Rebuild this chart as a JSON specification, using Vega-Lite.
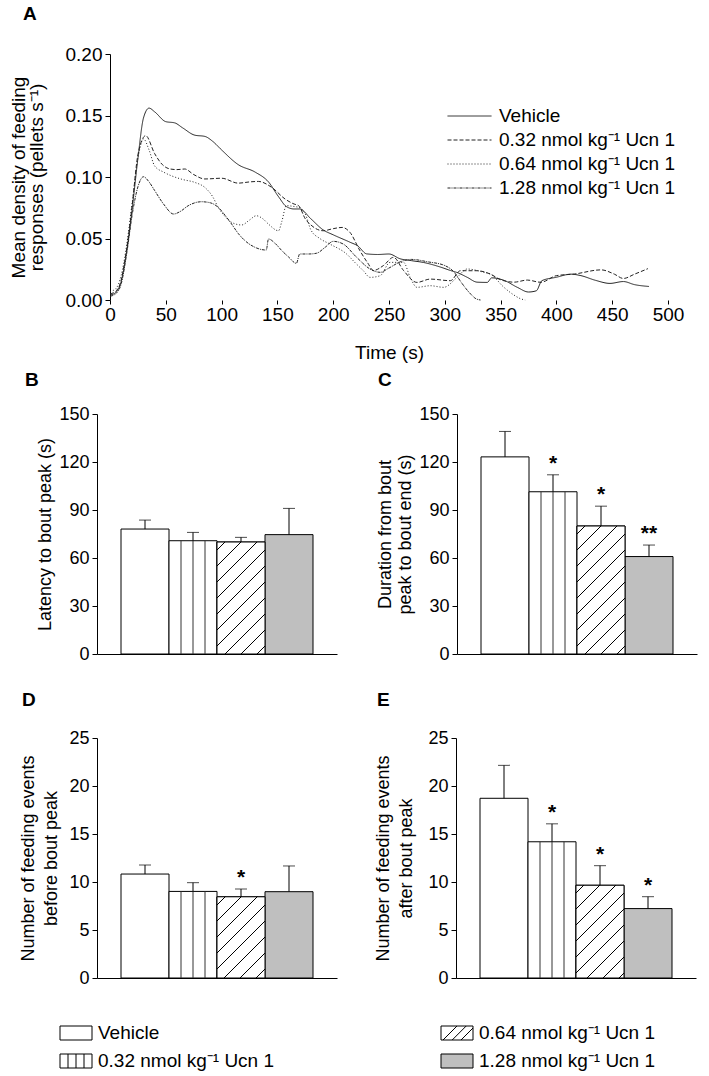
{
"$schema": "https://vega.github.io/schema/vega-lite/v6.json",
"padding": {"left": 9, "top": 5, "right": 2, "bottom": 2},
"background": "#ffffff",
"config": {
 "font": "Liberation Sans",
 "view": {"stroke": null},
 "axis": {"grid": false, "domainColor": "#000", "tickColor": "#000", "labelColor": "#000", "titleColor": "#000", "titleFontWeight": "normal", "tickSize": 5, "labelFontSize": 18, "titleFontSize": 18, "labelPadding": 3, "labelOverlap": false, "labelFlush": false, "titleFont": "Liberation Sans", "labelFont": "Liberation Sans"},
 "title": {"fontSize": 19, "fontWeight": "bold", "anchor": "start", "color": "#000", "frame": "group", "font": "Liberation Sans"}
},
"resolve": {"scale": {"fill": "independent", "shape": "independent", "strokeDash": "independent"}, "legend": {"fill": "independent", "shape": "independent", "strokeDash": "independent"}},
"datasets": {
 "lines": [
  {"series":"Vehicle","time":0,"density":0.004},{"series":"Vehicle","time":5,"density":0.006},{"series":"Vehicle","time":10,"density":0.015},{"series":"Vehicle","time":15,"density":0.04},{"series":"Vehicle","time":20,"density":0.075},{"series":"Vehicle","time":25,"density":0.115},{"series":"Vehicle","time":30,"density":0.148},{"series":"Vehicle","time":35,"density":0.156},{"series":"Vehicle","time":40,"density":0.153},{"series":"Vehicle","time":50,"density":0.145},{"series":"Vehicle","time":58,"density":0.144},{"series":"Vehicle","time":65,"density":0.14},{"series":"Vehicle","time":76,"density":0.134},{"series":"Vehicle","time":85,"density":0.133},{"series":"Vehicle","time":92,"density":0.129},{"series":"Vehicle","time":100,"density":0.122},{"series":"Vehicle","time":115,"density":0.110},{"series":"Vehicle","time":130,"density":0.104},{"series":"Vehicle","time":142,"density":0.096},{"series":"Vehicle","time":151,"density":0.084},{"series":"Vehicle","time":158,"density":0.076},{"series":"Vehicle","time":165,"density":0.074},{"series":"Vehicle","time":170,"density":0.074},{"series":"Vehicle","time":180,"density":0.066},{"series":"Vehicle","time":191,"density":0.057},{"series":"Vehicle","time":200,"density":0.053},{"series":"Vehicle","time":215,"density":0.047},{"series":"Vehicle","time":222,"density":0.044},{"series":"Vehicle","time":230,"density":0.0375},{"series":"Vehicle","time":240,"density":0.037},{"series":"Vehicle","time":250,"density":0.0374},{"series":"Vehicle","time":260,"density":0.0335},{"series":"Vehicle","time":270,"density":0.032},{"series":"Vehicle","time":281,"density":0.0305},{"series":"Vehicle","time":296,"density":0.0268},{"series":"Vehicle","time":305,"density":0.024},{"series":"Vehicle","time":312,"density":0.022},{"series":"Vehicle","time":320,"density":0.0185},{"series":"Vehicle","time":329,"density":0.0145},{"series":"Vehicle","time":338,"density":0.0143},{"series":"Vehicle","time":342,"density":0.018},{"series":"Vehicle","time":353,"density":0.016},{"series":"Vehicle","time":365,"density":0.0103},{"series":"Vehicle","time":375,"density":0.0065},{"series":"Vehicle","time":382,"density":0.0075},{"series":"Vehicle","time":387,"density":0.0157},{"series":"Vehicle","time":400,"density":0.0185},{"series":"Vehicle","time":413,"density":0.021},{"series":"Vehicle","time":422,"density":0.0198},{"series":"Vehicle","time":435,"density":0.016},{"series":"Vehicle","time":448,"density":0.0135},{"series":"Vehicle","time":460,"density":0.015},{"series":"Vehicle","time":470,"density":0.0125},{"series":"Vehicle","time":483,"density":0.011},
  {"series":"0.32 nmol kg⁻¹ Ucn 1","time":0,"density":0.005},{"series":"0.32 nmol kg⁻¹ Ucn 1","time":5,"density":0.007},{"series":"0.32 nmol kg⁻¹ Ucn 1","time":10,"density":0.016},{"series":"0.32 nmol kg⁻¹ Ucn 1","time":15,"density":0.042},{"series":"0.32 nmol kg⁻¹ Ucn 1","time":20,"density":0.078},{"series":"0.32 nmol kg⁻¹ Ucn 1","time":25,"density":0.118},{"series":"0.32 nmol kg⁻¹ Ucn 1","time":32,"density":0.1336},{"series":"0.32 nmol kg⁻¹ Ucn 1","time":40,"density":0.119},{"series":"0.32 nmol kg⁻¹ Ucn 1","time":47,"density":0.11},{"series":"0.32 nmol kg⁻¹ Ucn 1","time":54,"density":0.1065},{"series":"0.32 nmol kg⁻¹ Ucn 1","time":60,"density":0.106},{"series":"0.32 nmol kg⁻¹ Ucn 1","time":67,"density":0.1065},{"series":"0.32 nmol kg⁻¹ Ucn 1","time":75,"density":0.102},{"series":"0.32 nmol kg⁻¹ Ucn 1","time":85,"density":0.0984},{"series":"0.32 nmol kg⁻¹ Ucn 1","time":100,"density":0.099},{"series":"0.32 nmol kg⁻¹ Ucn 1","time":115,"density":0.095},{"series":"0.32 nmol kg⁻¹ Ucn 1","time":125,"density":0.096},{"series":"0.32 nmol kg⁻¹ Ucn 1","time":133,"density":0.0964},{"series":"0.32 nmol kg⁻¹ Ucn 1","time":145,"density":0.0915},{"series":"0.32 nmol kg⁻¹ Ucn 1","time":157,"density":0.082},{"series":"0.32 nmol kg⁻¹ Ucn 1","time":165,"density":0.078},{"series":"0.32 nmol kg⁻¹ Ucn 1","time":169,"density":0.0767},{"series":"0.32 nmol kg⁻¹ Ucn 1","time":175,"density":0.066},{"series":"0.32 nmol kg⁻¹ Ucn 1","time":180,"density":0.061},{"series":"0.32 nmol kg⁻¹ Ucn 1","time":191,"density":0.0563},{"series":"0.32 nmol kg⁻¹ Ucn 1","time":200,"density":0.058},{"series":"0.32 nmol kg⁻¹ Ucn 1","time":208,"density":0.059},{"series":"0.32 nmol kg⁻¹ Ucn 1","time":215,"density":0.055},{"series":"0.32 nmol kg⁻¹ Ucn 1","time":224,"density":0.04},{"series":"0.32 nmol kg⁻¹ Ucn 1","time":231,"density":0.03},{"series":"0.32 nmol kg⁻¹ Ucn 1","time":236,"density":0.024},{"series":"0.32 nmol kg⁻¹ Ucn 1","time":245,"density":0.028},{"series":"0.32 nmol kg⁻¹ Ucn 1","time":254,"density":0.0347},{"series":"0.32 nmol kg⁻¹ Ucn 1","time":263,"density":0.024},{"series":"0.32 nmol kg⁻¹ Ucn 1","time":275,"density":0.0143},{"series":"0.32 nmol kg⁻¹ Ucn 1","time":287,"density":0.017},{"series":"0.32 nmol kg⁻¹ Ucn 1","time":305,"density":0.0157},{"series":"0.32 nmol kg⁻¹ Ucn 1","time":314,"density":0.0238},{"series":"0.32 nmol kg⁻¹ Ucn 1","time":329,"density":0.0238},{"series":"0.32 nmol kg⁻¹ Ucn 1","time":341,"density":0.021},{"series":"0.32 nmol kg⁻¹ Ucn 1","time":350,"density":0.0165},{"series":"0.32 nmol kg⁻¹ Ucn 1","time":362,"density":0.0145},{"series":"0.32 nmol kg⁻¹ Ucn 1","time":374,"density":0.0162},{"series":"0.32 nmol kg⁻¹ Ucn 1","time":386,"density":0.0144},{"series":"0.32 nmol kg⁻¹ Ucn 1","time":400,"density":0.0198},{"series":"0.32 nmol kg⁻¹ Ucn 1","time":416,"density":0.0211},{"series":"0.32 nmol kg⁻¹ Ucn 1","time":440,"density":0.0245},{"series":"0.32 nmol kg⁻¹ Ucn 1","time":452,"density":0.021},{"series":"0.32 nmol kg⁻¹ Ucn 1","time":460,"density":0.0175},{"series":"0.32 nmol kg⁻¹ Ucn 1","time":470,"density":0.021},{"series":"0.32 nmol kg⁻¹ Ucn 1","time":482,"density":0.0255},
  {"series":"0.64 nmol kg⁻¹ Ucn 1","time":0,"density":0.007},{"series":"0.64 nmol kg⁻¹ Ucn 1","time":5,"density":0.009},{"series":"0.64 nmol kg⁻¹ Ucn 1","time":10,"density":0.02},{"series":"0.64 nmol kg⁻¹ Ucn 1","time":15,"density":0.045},{"series":"0.64 nmol kg⁻¹ Ucn 1","time":20,"density":0.08},{"series":"0.64 nmol kg⁻¹ Ucn 1","time":25,"density":0.115},{"series":"0.64 nmol kg⁻¹ Ucn 1","time":30,"density":0.131},{"series":"0.64 nmol kg⁻¹ Ucn 1","time":35,"density":0.122},{"series":"0.64 nmol kg⁻¹ Ucn 1","time":40,"density":0.109},{"series":"0.64 nmol kg⁻¹ Ucn 1","time":48,"density":0.104},{"series":"0.64 nmol kg⁻¹ Ucn 1","time":55,"density":0.101},{"series":"0.64 nmol kg⁻¹ Ucn 1","time":65,"density":0.098},{"series":"0.64 nmol kg⁻¹ Ucn 1","time":76,"density":0.0956},{"series":"0.64 nmol kg⁻¹ Ucn 1","time":85,"density":0.0915},{"series":"0.64 nmol kg⁻¹ Ucn 1","time":92,"density":0.084},{"series":"0.64 nmol kg⁻¹ Ucn 1","time":97,"density":0.0753},{"series":"0.64 nmol kg⁻¹ Ucn 1","time":103,"density":0.068},{"series":"0.64 nmol kg⁻¹ Ucn 1","time":109,"density":0.0631},{"series":"0.64 nmol kg⁻¹ Ucn 1","time":118,"density":0.061},{"series":"0.64 nmol kg⁻¹ Ucn 1","time":125,"density":0.065},{"series":"0.64 nmol kg⁻¹ Ucn 1","time":131,"density":0.0685},{"series":"0.64 nmol kg⁻¹ Ucn 1","time":137,"density":0.066},{"series":"0.64 nmol kg⁻¹ Ucn 1","time":142,"density":0.0617},{"series":"0.64 nmol kg⁻¹ Ucn 1","time":151,"density":0.0563},{"series":"0.64 nmol kg⁻¹ Ucn 1","time":154,"density":0.064},{"series":"0.64 nmol kg⁻¹ Ucn 1","time":158,"density":0.0767},{"series":"0.64 nmol kg⁻¹ Ucn 1","time":165,"density":0.076},{"series":"0.64 nmol kg⁻¹ Ucn 1","time":169,"density":0.0753},{"series":"0.64 nmol kg⁻¹ Ucn 1","time":175,"density":0.0699},{"series":"0.64 nmol kg⁻¹ Ucn 1","time":180,"density":0.057},{"series":"0.64 nmol kg⁻¹ Ucn 1","time":188,"density":0.05},{"series":"0.64 nmol kg⁻¹ Ucn 1","time":197,"density":0.0455},{"series":"0.64 nmol kg⁻¹ Ucn 1","time":212,"density":0.0374},{"series":"0.64 nmol kg⁻¹ Ucn 1","time":220,"density":0.03},{"series":"0.64 nmol kg⁻¹ Ucn 1","time":227,"density":0.0238},{"series":"0.64 nmol kg⁻¹ Ucn 1","time":233,"density":0.0184},{"series":"0.64 nmol kg⁻¹ Ucn 1","time":242,"density":0.0197},{"series":"0.64 nmol kg⁻¹ Ucn 1","time":251,"density":0.0306},{"series":"0.64 nmol kg⁻¹ Ucn 1","time":263,"density":0.0306},{"series":"0.64 nmol kg⁻¹ Ucn 1","time":269,"density":0.0184},{"series":"0.64 nmol kg⁻¹ Ucn 1","time":275,"density":0.0103},{"series":"0.64 nmol kg⁻¹ Ucn 1","time":287,"density":0.0116},{"series":"0.64 nmol kg⁻¹ Ucn 1","time":299,"density":0.0103},{"series":"0.64 nmol kg⁻¹ Ucn 1","time":311,"density":0.0184},{"series":"0.64 nmol kg⁻¹ Ucn 1","time":320,"density":0.0252},{"series":"0.64 nmol kg⁻¹ Ucn 1","time":335,"density":0.0225},{"series":"0.64 nmol kg⁻¹ Ucn 1","time":341,"density":0.021},{"series":"0.64 nmol kg⁻¹ Ucn 1","time":353,"density":0.0103},{"series":"0.64 nmol kg⁻¹ Ucn 1","time":362,"density":0.004},{"series":"0.64 nmol kg⁻¹ Ucn 1","time":368,"density":0.001},{"series":"0.64 nmol kg⁻¹ Ucn 1","time":372,"density":0},
  {"series":"1.28 nmol kg⁻¹ Ucn 1","time":0,"density":0.003},{"series":"1.28 nmol kg⁻¹ Ucn 1","time":5,"density":0.005},{"series":"1.28 nmol kg⁻¹ Ucn 1","time":10,"density":0.013},{"series":"1.28 nmol kg⁻¹ Ucn 1","time":15,"density":0.038},{"series":"1.28 nmol kg⁻¹ Ucn 1","time":20,"density":0.07},{"series":"1.28 nmol kg⁻¹ Ucn 1","time":25,"density":0.092},{"series":"1.28 nmol kg⁻¹ Ucn 1","time":30,"density":0.1002},{"series":"1.28 nmol kg⁻¹ Ucn 1","time":35,"density":0.096},{"series":"1.28 nmol kg⁻¹ Ucn 1","time":40,"density":0.089},{"series":"1.28 nmol kg⁻¹ Ucn 1","time":48,"density":0.078},{"series":"1.28 nmol kg⁻¹ Ucn 1","time":57,"density":0.0699},{"series":"1.28 nmol kg⁻¹ Ucn 1","time":63,"density":0.072},{"series":"1.28 nmol kg⁻¹ Ucn 1","time":70,"density":0.0766},{"series":"1.28 nmol kg⁻¹ Ucn 1","time":82,"density":0.0799},{"series":"1.28 nmol kg⁻¹ Ucn 1","time":90,"density":0.079},{"series":"1.28 nmol kg⁻¹ Ucn 1","time":97,"density":0.0753},{"series":"1.28 nmol kg⁻¹ Ucn 1","time":103,"density":0.069},{"series":"1.28 nmol kg⁻¹ Ucn 1","time":109,"density":0.0617},{"series":"1.28 nmol kg⁻¹ Ucn 1","time":115,"density":0.054},{"series":"1.28 nmol kg⁻¹ Ucn 1","time":121,"density":0.0482},{"series":"1.28 nmol kg⁻¹ Ucn 1","time":130,"density":0.0428},{"series":"1.28 nmol kg⁻¹ Ucn 1","time":140,"density":0.0406},{"series":"1.28 nmol kg⁻¹ Ucn 1","time":142,"density":0.0496},{"series":"1.28 nmol kg⁻¹ Ucn 1","time":148,"density":0.046},{"series":"1.28 nmol kg⁻¹ Ucn 1","time":154,"density":0.0401},{"series":"1.28 nmol kg⁻¹ Ucn 1","time":160,"density":0.035},{"series":"1.28 nmol kg⁻¹ Ucn 1","time":167,"density":0.0298},{"series":"1.28 nmol kg⁻¹ Ucn 1","time":170,"density":0.0374},{"series":"1.28 nmol kg⁻¹ Ucn 1","time":178,"density":0.0374},{"series":"1.28 nmol kg⁻¹ Ucn 1","time":185,"density":0.038},{"series":"1.28 nmol kg⁻¹ Ucn 1","time":193,"density":0.043},{"series":"1.28 nmol kg⁻¹ Ucn 1","time":200,"density":0.0477},{"series":"1.28 nmol kg⁻¹ Ucn 1","time":209,"density":0.0455},{"series":"1.28 nmol kg⁻¹ Ucn 1","time":221,"density":0.0347},{"series":"1.28 nmol kg⁻¹ Ucn 1","time":233,"density":0.0252},{"series":"1.28 nmol kg⁻¹ Ucn 1","time":242,"density":0.0225},{"series":"1.28 nmol kg⁻¹ Ucn 1","time":250,"density":0.026},{"series":"1.28 nmol kg⁻¹ Ucn 1","time":260,"density":0.031},{"series":"1.28 nmol kg⁻¹ Ucn 1","time":270,"density":0.033},{"series":"1.28 nmol kg⁻¹ Ucn 1","time":285,"density":0.031},{"series":"1.28 nmol kg⁻¹ Ucn 1","time":300,"density":0.028},{"series":"1.28 nmol kg⁻¹ Ucn 1","time":308,"density":0.023},{"series":"1.28 nmol kg⁻¹ Ucn 1","time":315,"density":0.014},{"series":"1.28 nmol kg⁻¹ Ucn 1","time":322,"density":0.006},{"series":"1.28 nmol kg⁻¹ Ucn 1","time":328,"density":0.001},{"series":"1.28 nmol kg⁻¹ Ucn 1","time":332,"density":0}
 ],
 "bars": [
  {"panel":"B","group":"Vehicle","mean":78.1,"upper":83.7,"sig":""},
  {"panel":"B","group":"0.32 nmol kg⁻¹ Ucn 1","mean":70.8,"upper":76.0,"sig":""},
  {"panel":"B","group":"0.64 nmol kg⁻¹ Ucn 1","mean":70.0,"upper":72.9,"sig":""},
  {"panel":"B","group":"1.28 nmol kg⁻¹ Ucn 1","mean":74.6,"upper":91.0,"sig":""},
  {"panel":"C","group":"Vehicle","mean":123.2,"upper":139.1,"sig":""},
  {"panel":"C","group":"0.32 nmol kg⁻¹ Ucn 1","mean":101.4,"upper":112.0,"sig":"*"},
  {"panel":"C","group":"0.64 nmol kg⁻¹ Ucn 1","mean":80.0,"upper":92.4,"sig":"*"},
  {"panel":"C","group":"1.28 nmol kg⁻¹ Ucn 1","mean":60.9,"upper":68.1,"sig":"**"},
  {"panel":"D","group":"Vehicle","mean":10.83,"upper":11.77,"sig":""},
  {"panel":"D","group":"0.32 nmol kg⁻¹ Ucn 1","mean":9.02,"upper":9.93,"sig":""},
  {"panel":"D","group":"0.64 nmol kg⁻¹ Ucn 1","mean":8.46,"upper":9.27,"sig":"*"},
  {"panel":"D","group":"1.28 nmol kg⁻¹ Ucn 1","mean":8.99,"upper":11.67,"sig":""},
  {"panel":"E","group":"Vehicle","mean":18.72,"upper":22.15,"sig":""},
  {"panel":"E","group":"0.32 nmol kg⁻¹ Ucn 1","mean":14.19,"upper":16.06,"sig":"*"},
  {"panel":"E","group":"0.64 nmol kg⁻¹ Ucn 1","mean":9.66,"upper":11.70,"sig":"*"},
  {"panel":"E","group":"1.28 nmol kg⁻¹ Ucn 1","mean":7.23,"upper":8.47,"sig":"*"}
 ],
 "legend": [
  {"group":"Vehicle","col":"left","row":"first"},
  {"group":"0.32 nmol kg⁻¹ Ucn 1","col":"left","row":"second"},
  {"group":"0.64 nmol kg⁻¹ Ucn 1","col":"right","row":"first"},
  {"group":"1.28 nmol kg⁻¹ Ucn 1","col":"right","row":"second"}
 ]
},
"spacing": 9,
"vconcat": [
 {
  "width": 571, "height": 246,
  "title": {"text": "A", "dx": -74, "offset": 21},
  "layer": [
   {
    "data": {"name": "lines"},
    "mark": {"type": "line", "interpolate": "monotone", "strokeWidth": 1, "color": "#222"},
    "encoding": {
     "x": {"field": "time", "type": "quantitative", "scale": {"domain": [-11.65, 500], "nice": false, "zero": false},
           "axis": {"title": "Time (s)", "titleX": 292, "domain": false, "values": [0,25,50,75,100,125,150,175,200,225,250,275,300,325,350,375,400,425,450,475,500], "format": "d", "labelExpr": "datum.value % 50 === 0 ? datum.label : ''", "labelFontSize": 19, "titleFontSize": 19, "titlePadding": 19, "tickSize": 4, "labelPadding": 1}},
     "y": {"field": "density", "type": "quantitative", "scale": {"domain": [0, 0.2], "nice": false},
           "axis": {"title": ["Mean density of feeding", "responses (pellets s⁻¹)"], "offset": -13, "values": [0,0.025,0.05,0.075,0.1,0.125,0.15,0.175,0.2], "format": ".2f", "labelExpr": "indexof(['0.00','0.05','0.10','0.15','0.20'], datum.label) >= 0 ? datum.label : ''", "labelFontSize": 19, "titleFontSize": 19, "titleLineHeight": 17.5, "titlePadding": 19}},
     "strokeDash": {"field": "series", "type": "nominal",
           "scale": {"domain": ["Vehicle", "0.32 nmol kg⁻¹ Ucn 1", "0.64 nmol kg⁻¹ Ucn 1", "1.28 nmol kg⁻¹ Ucn 1"], "range": [[1,0],[4,2],[1,2],[3,1,1,1]]},
           "legend": {"orient": "none", "legendX": 350, "legendY": 50, "title": null, "symbolType": "stroke", "symbolSize": 1936, "symbolStrokeWidth": 1, "symbolStrokeColor": "#222", "labelFontSize": 19, "labelFont": "Liberation Sans", "labelColor": "#000", "labelLimit": 400, "clipHeight": 24, "rowPadding": 0, "labelOffset": 7, "padding": 0}}
    }
   },
   {
    "mark": {"type": "rule", "color": "#000", "strokeWidth": 1},
    "encoding": {"x": {"datum": 0}, "x2": {"datum": 500}, "y": {"datum": 0}}
   }
  ]
 },
 {
  "spacing": 39,
  "resolve": {"scale": {"fill": "independent"}, "legend": {"fill": "independent"}},
  "hconcat": [
   {
    "width": 240, "height": 240,
    "title": {"text": "B", "dx": -72, "offset": 15},
    "data": {"name": "bars"},
    "transform": [{"filter": "datum.panel === 'B'"}],
    "encoding": {"x": {"field": "group", "type": "nominal", "sort": null, "scale": {"domain": ["Vehicle", "0.32 nmol kg⁻¹ Ucn 1", "0.64 nmol kg⁻¹ Ucn 1", "1.28 nmol kg⁻¹ Ucn 1"], "paddingInner": 0, "paddingOuter": 0.5}, "axis": {"title": " ", "labels": false, "ticks": false, "titlePadding": 10}}},
    "layer": [
     {"mark": {"type": "bar", "stroke": "#000", "strokeWidth": 1}, "encoding": {"y": {"field": "mean", "type": "quantitative", "title": "Latency to bout peak (s)", "scale": {"domain": [0, 150], "nice": false}, "axis": {"values": [0,30,60,90,120,150], "titlePadding": 4}}, "fill": {"field": "group", "type": "nominal", "scale": {"domain": ["Vehicle", "0.32 nmol kg⁻¹ Ucn 1", "0.64 nmol kg⁻¹ Ucn 1", "1.28 nmol kg⁻¹ Ucn 1"], "range": ["#ffffff","#ffffff","#ffffff","#bfbfbf"]}, "legend": null}}},
     {"transform": [{"filter": "indexof(datum.group, '0.32') === 0"}], "mark": {"type": "rule", "color": "#333", "strokeWidth": 1}, "encoding": {"x": {"field": "group", "type": "nominal", "sort": null, "bandPosition": 0.25}, "y": {"field": "mean", "type": "quantitative", "title": "Latency to bout peak (s)"}, "y2": {"datum": 0}}},
     {"transform": [{"filter": "indexof(datum.group, '0.32') === 0"}], "mark": {"type": "rule", "color": "#333", "strokeWidth": 1}, "encoding": {"x": {"field": "group", "type": "nominal", "sort": null, "bandPosition": 0.5}, "y": {"field": "mean", "type": "quantitative", "title": "Latency to bout peak (s)"}, "y2": {"datum": 0}}},
     {"transform": [{"filter": "indexof(datum.group, '0.32') === 0"}], "mark": {"type": "rule", "color": "#333", "strokeWidth": 1}, "encoding": {"x": {"field": "group", "type": "nominal", "sort": null, "bandPosition": 0.75}, "y": {"field": "mean", "type": "quantitative", "title": "Latency to bout peak (s)"}, "y2": {"datum": 0}}},
     {"transform": [{"filter": "indexof(datum.group, '0.64') === 0"}], "mark": {"type": "bar", "stroke": "#000", "strokeWidth": 1, "fill": {"gradient": "linear", "x1": 0, "y1": 0, "x2": 0.6466, "y2": 1.5086, "stops": [{"offset":0,"color":"#fff"},{"offset":0.0365,"color":"#fff"},{"offset":0.0365,"color":"#000"},{"offset":0.0435,"color":"#000"},{"offset":0.0435,"color":"#fff"},{"offset":0.1165,"color":"#fff"},{"offset":0.1165,"color":"#000"},{"offset":0.1235,"color":"#000"},{"offset":0.1235,"color":"#fff"},{"offset":0.1965,"color":"#fff"},{"offset":0.1965,"color":"#000"},{"offset":0.2035,"color":"#000"},{"offset":0.2035,"color":"#fff"},{"offset":0.2765,"color":"#fff"},{"offset":0.2765,"color":"#000"},{"offset":0.2835,"color":"#000"},{"offset":0.2835,"color":"#fff"},{"offset":0.3565,"color":"#fff"},{"offset":0.3565,"color":"#000"},{"offset":0.3635,"color":"#000"},{"offset":0.3635,"color":"#fff"},{"offset":0.4365,"color":"#fff"},{"offset":0.4365,"color":"#000"},{"offset":0.4435,"color":"#000"},{"offset":0.4435,"color":"#fff"},{"offset":0.5165,"color":"#fff"},{"offset":0.5165,"color":"#000"},{"offset":0.5235,"color":"#000"},{"offset":0.5235,"color":"#fff"},{"offset":0.5965,"color":"#fff"},{"offset":0.5965,"color":"#000"},{"offset":0.6035,"color":"#000"},{"offset":0.6035,"color":"#fff"},{"offset":0.6765,"color":"#fff"},{"offset":0.6765,"color":"#000"},{"offset":0.6835,"color":"#000"},{"offset":0.6835,"color":"#fff"},{"offset":0.7565,"color":"#fff"},{"offset":0.7565,"color":"#000"},{"offset":0.7635,"color":"#000"},{"offset":0.7635,"color":"#fff"},{"offset":0.8365,"color":"#fff"},{"offset":0.8365,"color":"#000"},{"offset":0.8435,"color":"#000"},{"offset":0.8435,"color":"#fff"},{"offset":0.9165,"color":"#fff"},{"offset":0.9165,"color":"#000"},{"offset":0.9235,"color":"#000"},{"offset":0.9235,"color":"#fff"},{"offset":1,"color":"#fff"}]}}, "encoding": {"y": {"field": "mean", "type": "quantitative", "title": "Latency to bout peak (s)"}}},
     {"mark": {"type": "rule", "color": "#000", "strokeWidth": 1}, "encoding": {"y": {"field": "mean", "type": "quantitative", "title": "Latency to bout peak (s)"}, "y2": {"field": "upper"}}},
     {"mark": {"type": "tick", "color": "#000", "thickness": 1, "size": 12}, "encoding": {"y": {"field": "upper", "type": "quantitative", "title": "Latency to bout peak (s)"}}},
     {"mark": {"type": "text", "baseline": "alphabetic", "dy": -5, "fontSize": 21, "fontWeight": "bold", "color": "#000"}, "encoding": {"y": {"field": "upper", "type": "quantitative", "title": "Latency to bout peak (s)"}, "text": {"field": "sig"}}}
    ]
   },
   {
    "width": 240, "height": 240,
    "title": {"text": "C", "dx": -79, "offset": 15},
    "data": {"name": "bars"},
    "transform": [{"filter": "datum.panel === 'C'"}],
    "encoding": {"x": {"field": "group", "type": "nominal", "sort": null, "scale": {"domain": ["Vehicle", "0.32 nmol kg⁻¹ Ucn 1", "0.64 nmol kg⁻¹ Ucn 1", "1.28 nmol kg⁻¹ Ucn 1"], "paddingInner": 0, "paddingOuter": 0.5}, "axis": {"title": " ", "labels": false, "ticks": false, "titlePadding": 10}}},
    "layer": [
     {"mark": {"type": "bar", "stroke": "#000", "strokeWidth": 1}, "encoding": {"y": {"field": "mean", "type": "quantitative", "title": ["Duration from bout", "peak to bout end (s)"], "scale": {"domain": [0, 150], "nice": false}, "axis": {"values": [0,30,60,90,120,150], "titlePadding": 4, "titleLineHeight": 20}}, "fill": {"field": "group", "type": "nominal", "scale": {"domain": ["Vehicle", "0.32 nmol kg⁻¹ Ucn 1", "0.64 nmol kg⁻¹ Ucn 1", "1.28 nmol kg⁻¹ Ucn 1"], "range": ["#ffffff","#ffffff","#ffffff","#bfbfbf"]}, "legend": null}}},
     {"transform": [{"filter": "indexof(datum.group, '0.32') === 0"}], "mark": {"type": "rule", "color": "#333", "strokeWidth": 1}, "encoding": {"x": {"field": "group", "type": "nominal", "sort": null, "bandPosition": 0.25}, "y": {"field": "mean", "type": "quantitative", "title": ["Duration from bout", "peak to bout end (s)"]}, "y2": {"datum": 0}}},
     {"transform": [{"filter": "indexof(datum.group, '0.32') === 0"}], "mark": {"type": "rule", "color": "#333", "strokeWidth": 1}, "encoding": {"x": {"field": "group", "type": "nominal", "sort": null, "bandPosition": 0.5}, "y": {"field": "mean", "type": "quantitative", "title": ["Duration from bout", "peak to bout end (s)"]}, "y2": {"datum": 0}}},
     {"transform": [{"filter": "indexof(datum.group, '0.32') === 0"}], "mark": {"type": "rule", "color": "#333", "strokeWidth": 1}, "encoding": {"x": {"field": "group", "type": "nominal", "sort": null, "bandPosition": 0.75}, "y": {"field": "mean", "type": "quantitative", "title": ["Duration from bout", "peak to bout end (s)"]}, "y2": {"datum": 0}}},
     {"transform": [{"filter": "indexof(datum.group, '0.64') === 0"}], "mark": {"type": "bar", "stroke": "#000", "strokeWidth": 1, "fill": {"gradient": "linear", "x1": 0, "y1": 0, "x2": 0.5137, "y2": 1.3699, "stops": [{"offset":0,"color":"#fff"},{"offset":0.0365,"color":"#fff"},{"offset":0.0365,"color":"#000"},{"offset":0.0435,"color":"#000"},{"offset":0.0435,"color":"#fff"},{"offset":0.1165,"color":"#fff"},{"offset":0.1165,"color":"#000"},{"offset":0.1235,"color":"#000"},{"offset":0.1235,"color":"#fff"},{"offset":0.1965,"color":"#fff"},{"offset":0.1965,"color":"#000"},{"offset":0.2035,"color":"#000"},{"offset":0.2035,"color":"#fff"},{"offset":0.2765,"color":"#fff"},{"offset":0.2765,"color":"#000"},{"offset":0.2835,"color":"#000"},{"offset":0.2835,"color":"#fff"},{"offset":0.3565,"color":"#fff"},{"offset":0.3565,"color":"#000"},{"offset":0.3635,"color":"#000"},{"offset":0.3635,"color":"#fff"},{"offset":0.4365,"color":"#fff"},{"offset":0.4365,"color":"#000"},{"offset":0.4435,"color":"#000"},{"offset":0.4435,"color":"#fff"},{"offset":0.5165,"color":"#fff"},{"offset":0.5165,"color":"#000"},{"offset":0.5235,"color":"#000"},{"offset":0.5235,"color":"#fff"},{"offset":0.5965,"color":"#fff"},{"offset":0.5965,"color":"#000"},{"offset":0.6035,"color":"#000"},{"offset":0.6035,"color":"#fff"},{"offset":0.6765,"color":"#fff"},{"offset":0.6765,"color":"#000"},{"offset":0.6835,"color":"#000"},{"offset":0.6835,"color":"#fff"},{"offset":0.7565,"color":"#fff"},{"offset":0.7565,"color":"#000"},{"offset":0.7635,"color":"#000"},{"offset":0.7635,"color":"#fff"},{"offset":0.8365,"color":"#fff"},{"offset":0.8365,"color":"#000"},{"offset":0.8435,"color":"#000"},{"offset":0.8435,"color":"#fff"},{"offset":0.9165,"color":"#fff"},{"offset":0.9165,"color":"#000"},{"offset":0.9235,"color":"#000"},{"offset":0.9235,"color":"#fff"},{"offset":1,"color":"#fff"}]}}, "encoding": {"y": {"field": "mean", "type": "quantitative", "title": ["Duration from bout", "peak to bout end (s)"]}}},
     {"mark": {"type": "rule", "color": "#000", "strokeWidth": 1}, "encoding": {"y": {"field": "mean", "type": "quantitative", "title": ["Duration from bout", "peak to bout end (s)"]}, "y2": {"field": "upper"}}},
     {"mark": {"type": "tick", "color": "#000", "thickness": 1, "size": 12}, "encoding": {"y": {"field": "upper", "type": "quantitative", "title": ["Duration from bout", "peak to bout end (s)"]}}},
     {"mark": {"type": "text", "baseline": "alphabetic", "dy": -5, "fontSize": 21, "fontWeight": "bold", "color": "#000"}, "encoding": {"y": {"field": "upper", "type": "quantitative", "title": ["Duration from bout", "peak to bout end (s)"]}, "text": {"field": "sig"}}}
    ]
   }
  ]
 },
 {
  "spacing": 37,
  "resolve": {"scale": {"fill": "independent"}, "legend": {"fill": "independent"}},
  "hconcat": [
   {
    "width": 240, "height": 240,
    "title": {"text": "D", "dx": -75, "offset": 19},
    "data": {"name": "bars"},
    "transform": [{"filter": "datum.panel === 'D'"}],
    "encoding": {"x": {"field": "group", "type": "nominal", "sort": null, "scale": {"domain": ["Vehicle", "0.32 nmol kg⁻¹ Ucn 1", "0.64 nmol kg⁻¹ Ucn 1", "1.28 nmol kg⁻¹ Ucn 1"], "paddingInner": 0, "paddingOuter": 0.5}, "axis": {"title": " ", "labels": false, "ticks": false, "titlePadding": 18}}},
    "layer": [
     {"mark": {"type": "bar", "stroke": "#000", "strokeWidth": 1}, "encoding": {"y": {"field": "mean", "type": "quantitative", "title": ["Number of feeding events", "before bout peak"], "scale": {"domain": [0, 25], "nice": false}, "axis": {"values": [0,5,10,15,20,25], "titlePadding": 8, "titleLineHeight": 23}}, "fill": {"field": "group", "type": "nominal", "scale": {"domain": ["Vehicle", "0.32 nmol kg⁻¹ Ucn 1", "0.64 nmol kg⁻¹ Ucn 1", "1.28 nmol kg⁻¹ Ucn 1"], "range": ["#ffffff","#ffffff","#ffffff","#bfbfbf"]}, "legend": null}}},
     {"transform": [{"filter": "indexof(datum.group, '0.32') === 0"}], "mark": {"type": "rule", "color": "#333", "strokeWidth": 1}, "encoding": {"x": {"field": "group", "type": "nominal", "sort": null, "bandPosition": 0.25}, "y": {"field": "mean", "type": "quantitative", "title": ["Number of feeding events", "before bout peak"]}, "y2": {"datum": 0}}},
     {"transform": [{"filter": "indexof(datum.group, '0.32') === 0"}], "mark": {"type": "rule", "color": "#333", "strokeWidth": 1}, "encoding": {"x": {"field": "group", "type": "nominal", "sort": null, "bandPosition": 0.5}, "y": {"field": "mean", "type": "quantitative", "title": ["Number of feeding events", "before bout peak"]}, "y2": {"datum": 0}}},
     {"transform": [{"filter": "indexof(datum.group, '0.32') === 0"}], "mark": {"type": "rule", "color": "#333", "strokeWidth": 1}, "encoding": {"x": {"field": "group", "type": "nominal", "sort": null, "bandPosition": 0.75}, "y": {"field": "mean", "type": "quantitative", "title": ["Number of feeding events", "before bout peak"]}, "y2": {"datum": 0}}},
     {"transform": [{"filter": "indexof(datum.group, '0.64') === 0"}], "mark": {"type": "bar", "stroke": "#000", "strokeWidth": 1, "fill": {"gradient": "linear", "x1": 0, "y1": 0, "x2": 1.079, "y2": 1.8253, "stops": [{"offset":0,"color":"#fff"},{"offset":0.0365,"color":"#fff"},{"offset":0.0365,"color":"#000"},{"offset":0.0435,"color":"#000"},{"offset":0.0435,"color":"#fff"},{"offset":0.1165,"color":"#fff"},{"offset":0.1165,"color":"#000"},{"offset":0.1235,"color":"#000"},{"offset":0.1235,"color":"#fff"},{"offset":0.1965,"color":"#fff"},{"offset":0.1965,"color":"#000"},{"offset":0.2035,"color":"#000"},{"offset":0.2035,"color":"#fff"},{"offset":0.2765,"color":"#fff"},{"offset":0.2765,"color":"#000"},{"offset":0.2835,"color":"#000"},{"offset":0.2835,"color":"#fff"},{"offset":0.3565,"color":"#fff"},{"offset":0.3565,"color":"#000"},{"offset":0.3635,"color":"#000"},{"offset":0.3635,"color":"#fff"},{"offset":0.4365,"color":"#fff"},{"offset":0.4365,"color":"#000"},{"offset":0.4435,"color":"#000"},{"offset":0.4435,"color":"#fff"},{"offset":0.5165,"color":"#fff"},{"offset":0.5165,"color":"#000"},{"offset":0.5235,"color":"#000"},{"offset":0.5235,"color":"#fff"},{"offset":0.5965,"color":"#fff"},{"offset":0.5965,"color":"#000"},{"offset":0.6035,"color":"#000"},{"offset":0.6035,"color":"#fff"},{"offset":0.6765,"color":"#fff"},{"offset":0.6765,"color":"#000"},{"offset":0.6835,"color":"#000"},{"offset":0.6835,"color":"#fff"},{"offset":0.7565,"color":"#fff"},{"offset":0.7565,"color":"#000"},{"offset":0.7635,"color":"#000"},{"offset":0.7635,"color":"#fff"},{"offset":0.8365,"color":"#fff"},{"offset":0.8365,"color":"#000"},{"offset":0.8435,"color":"#000"},{"offset":0.8435,"color":"#fff"},{"offset":0.9165,"color":"#fff"},{"offset":0.9165,"color":"#000"},{"offset":0.9235,"color":"#000"},{"offset":0.9235,"color":"#fff"},{"offset":1,"color":"#fff"}]}}, "encoding": {"y": {"field": "mean", "type": "quantitative", "title": ["Number of feeding events", "before bout peak"]}}},
     {"mark": {"type": "rule", "color": "#000", "strokeWidth": 1}, "encoding": {"y": {"field": "mean", "type": "quantitative", "title": ["Number of feeding events", "before bout peak"]}, "y2": {"field": "upper"}}},
     {"mark": {"type": "tick", "color": "#000", "thickness": 1, "size": 12}, "encoding": {"y": {"field": "upper", "type": "quantitative", "title": ["Number of feeding events", "before bout peak"]}}},
     {"mark": {"type": "text", "baseline": "alphabetic", "dy": -5, "fontSize": 21, "fontWeight": "bold", "color": "#000"}, "encoding": {"y": {"field": "upper", "type": "quantitative", "title": ["Number of feeding events", "before bout peak"]}, "text": {"field": "sig"}}}
    ]
   },
   {
    "width": 240, "height": 240,
    "title": {"text": "E", "dx": -79, "offset": 19},
    "data": {"name": "bars"},
    "transform": [{"filter": "datum.panel === 'E'"}],
    "encoding": {"x": {"field": "group", "type": "nominal", "sort": null, "scale": {"domain": ["Vehicle", "0.32 nmol kg⁻¹ Ucn 1", "0.64 nmol kg⁻¹ Ucn 1", "1.28 nmol kg⁻¹ Ucn 1"], "paddingInner": 0, "paddingOuter": 0.5}, "axis": {"title": " ", "labels": false, "ticks": false, "titlePadding": 18}}},
    "layer": [
     {"mark": {"type": "bar", "stroke": "#000", "strokeWidth": 1}, "encoding": {"y": {"field": "mean", "type": "quantitative", "title": ["Number of feeding events", "after bout peak"], "scale": {"domain": [0, 25], "nice": false}, "axis": {"values": [0,5,10,15,20,25], "titlePadding": 12, "titleLineHeight": 23}}, "fill": {"field": "group", "type": "nominal", "scale": {"domain": ["Vehicle", "0.32 nmol kg⁻¹ Ucn 1", "0.64 nmol kg⁻¹ Ucn 1", "1.28 nmol kg⁻¹ Ucn 1"], "range": ["#ffffff","#ffffff","#ffffff","#bfbfbf"]}, "legend": null}}},
     {"transform": [{"filter": "indexof(datum.group, '0.32') === 0"}], "mark": {"type": "rule", "color": "#333", "strokeWidth": 1}, "encoding": {"x": {"field": "group", "type": "nominal", "sort": null, "bandPosition": 0.25}, "y": {"field": "mean", "type": "quantitative", "title": ["Number of feeding events", "after bout peak"]}, "y2": {"datum": 0}}},
     {"transform": [{"filter": "indexof(datum.group, '0.32') === 0"}], "mark": {"type": "rule", "color": "#333", "strokeWidth": 1}, "encoding": {"x": {"field": "group", "type": "nominal", "sort": null, "bandPosition": 0.5}, "y": {"field": "mean", "type": "quantitative", "title": ["Number of feeding events", "after bout peak"]}, "y2": {"datum": 0}}},
     {"transform": [{"filter": "indexof(datum.group, '0.32') === 0"}], "mark": {"type": "rule", "color": "#333", "strokeWidth": 1}, "encoding": {"x": {"field": "group", "type": "nominal", "sort": null, "bandPosition": 0.75}, "y": {"field": "mean", "type": "quantitative", "title": ["Number of feeding events", "after bout peak"]}, "y2": {"datum": 0}}},
     {"transform": [{"filter": "indexof(datum.group, '0.64') === 0"}], "mark": {"type": "bar", "stroke": "#000", "strokeWidth": 1, "fill": {"gradient": "linear", "x1": 0, "y1": 0, "x2": 0.881, "y2": 1.7013, "stops": [{"offset":0,"color":"#fff"},{"offset":0.0365,"color":"#fff"},{"offset":0.0365,"color":"#000"},{"offset":0.0435,"color":"#000"},{"offset":0.0435,"color":"#fff"},{"offset":0.1165,"color":"#fff"},{"offset":0.1165,"color":"#000"},{"offset":0.1235,"color":"#000"},{"offset":0.1235,"color":"#fff"},{"offset":0.1965,"color":"#fff"},{"offset":0.1965,"color":"#000"},{"offset":0.2035,"color":"#000"},{"offset":0.2035,"color":"#fff"},{"offset":0.2765,"color":"#fff"},{"offset":0.2765,"color":"#000"},{"offset":0.2835,"color":"#000"},{"offset":0.2835,"color":"#fff"},{"offset":0.3565,"color":"#fff"},{"offset":0.3565,"color":"#000"},{"offset":0.3635,"color":"#000"},{"offset":0.3635,"color":"#fff"},{"offset":0.4365,"color":"#fff"},{"offset":0.4365,"color":"#000"},{"offset":0.4435,"color":"#000"},{"offset":0.4435,"color":"#fff"},{"offset":0.5165,"color":"#fff"},{"offset":0.5165,"color":"#000"},{"offset":0.5235,"color":"#000"},{"offset":0.5235,"color":"#fff"},{"offset":0.5965,"color":"#fff"},{"offset":0.5965,"color":"#000"},{"offset":0.6035,"color":"#000"},{"offset":0.6035,"color":"#fff"},{"offset":0.6765,"color":"#fff"},{"offset":0.6765,"color":"#000"},{"offset":0.6835,"color":"#000"},{"offset":0.6835,"color":"#fff"},{"offset":0.7565,"color":"#fff"},{"offset":0.7565,"color":"#000"},{"offset":0.7635,"color":"#000"},{"offset":0.7635,"color":"#fff"},{"offset":0.8365,"color":"#fff"},{"offset":0.8365,"color":"#000"},{"offset":0.8435,"color":"#000"},{"offset":0.8435,"color":"#fff"},{"offset":0.9165,"color":"#fff"},{"offset":0.9165,"color":"#000"},{"offset":0.9235,"color":"#000"},{"offset":0.9235,"color":"#fff"},{"offset":1,"color":"#fff"}]}}, "encoding": {"y": {"field": "mean", "type": "quantitative", "title": ["Number of feeding events", "after bout peak"]}}},
     {"mark": {"type": "rule", "color": "#000", "strokeWidth": 1}, "encoding": {"y": {"field": "mean", "type": "quantitative", "title": ["Number of feeding events", "after bout peak"]}, "y2": {"field": "upper"}}},
     {"mark": {"type": "tick", "color": "#000", "thickness": 1, "size": 12}, "encoding": {"y": {"field": "upper", "type": "quantitative", "title": ["Number of feeding events", "after bout peak"]}}},
     {"mark": {"type": "text", "baseline": "alphabetic", "dy": -5, "fontSize": 21, "fontWeight": "bold", "color": "#000"}, "encoding": {"y": {"field": "upper", "type": "quantitative", "title": ["Number of feeding events", "after bout peak"]}, "text": {"field": "sig"}}}
    ]
   }
  ]
 },
 {
  "width": 600, "height": 45,
  "data": {"name": "legend"},
  "encoding": {
   "x": {"field": "col", "type": "ordinal", "scale": {"type": "point", "domain": ["left", "right"], "range": [-21, 360], "padding": 0}, "axis": null},
   "y": {"field": "row", "type": "ordinal", "scale": {"type": "point", "domain": ["first", "second"], "range": [10, 38], "padding": 0}, "axis": null}
  },
  "layer": [
   {"mark": {"type": "point", "filled": true, "stroke": "#000", "strokeWidth": 1, "size": 1024, "opacity": 1},
    "encoding": {
     "shape": {"field": "group", "type": "nominal", "scale": {"domain": ["Vehicle", "0.32 nmol kg⁻¹ Ucn 1", "0.64 nmol kg⁻¹ Ucn 1", "1.28 nmol kg⁻¹ Ucn 1"], "range": ["M-1,-0.4375H1V0.4375H-1Z", "M-1,-0.4375H1V0.4375H-1Z M-0.5,-0.4375V0.4375 M0,-0.4375V0.4375 M0.5,-0.4375V0.4375", "M-1,-0.4375H1V0.4375H-1Z M-0.875,0.4375L0,-0.4375 M-0.3,0.4375L0.575,-0.4375 M0.25,0.4375L1,-0.3125", "M-1,-0.4375H1V0.4375H-1Z"]}, "legend": null},
     "fill": {"field": "group", "type": "nominal", "scale": {"domain": ["Vehicle", "0.32 nmol kg⁻¹ Ucn 1", "0.64 nmol kg⁻¹ Ucn 1", "1.28 nmol kg⁻¹ Ucn 1"], "range": ["#ffffff","#ffffff","#ffffff","#bfbfbf"]}, "legend": null}
    }},
   {"mark": {"type": "text", "align": "left", "baseline": "middle", "dx": 22, "fontSize": 19, "color": "#000"},
    "encoding": {"text": {"field": "group"}}}
  ]
 }
]
}
